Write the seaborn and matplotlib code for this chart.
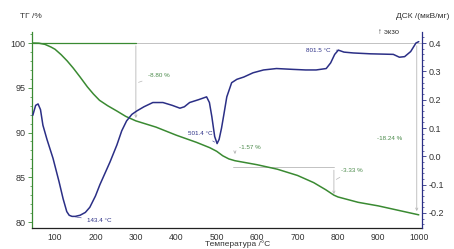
import numpy as np
import pandas as pd
import matplotlib
matplotlib.use("Agg")
import matplotlib.pyplot as plt
import seaborn as sns
from matplotlib.ticker import MultipleLocator, FormatStrFormatter

# ---- data ----
tg_temp = [45, 60, 75, 90, 100, 115, 130, 145, 162, 180, 195, 210, 230, 253, 275, 300,
           350, 400, 450, 483, 500, 515, 530, 545, 600, 650, 700, 740, 770, 790, 800,
           850, 900, 950, 1000]
tg_val = [100.0, 99.98, 99.85, 99.55, 99.3, 98.7, 98.0, 97.2, 96.2, 95.1, 94.3, 93.6,
          93.0, 92.4, 91.8, 91.3, 90.6, 89.7, 88.9, 88.3, 87.9, 87.4, 87.05, 86.85, 86.4,
          85.9, 85.2, 84.4, 83.6, 83.0, 82.8, 82.2, 81.8, 81.3, 80.8]

dsc_temp = [45, 52, 58, 64, 70, 80, 95, 110, 120, 129, 135, 142, 150, 162, 175, 186, 200,
            211, 236, 253, 265, 277, 290, 302, 320, 342, 367, 390, 409, 420, 433, 455,
            475, 482, 488, 495, 501, 506, 512, 518, 525, 537, 550, 567, 590, 616, 648,
            689, 720, 746, 771, 782, 792, 801, 815, 838, 880, 937, 952, 965, 980, 993,
            1000]
dsc_val = [0.145, 0.18, 0.185, 0.165, 0.11, 0.06, -0.007, -0.09, -0.15, -0.195, -0.208,
           -0.212, -0.212, -0.208, -0.198, -0.18, -0.14, -0.10, -0.02, 0.04, 0.09, 0.125,
           0.148, 0.16, 0.175, 0.19, 0.19, 0.18, 0.17, 0.175, 0.19, 0.2, 0.21, 0.19, 0.14,
           0.07, 0.045, 0.06, 0.1, 0.15, 0.21, 0.26, 0.272, 0.28, 0.295, 0.305, 0.31,
           0.307, 0.305, 0.305, 0.31, 0.33, 0.36, 0.375, 0.368, 0.365, 0.362, 0.36, 0.35,
           0.352, 0.37, 0.40, 0.405]

x_ticks = [100, 200, 300, 400, 500, 600, 700, 800, 900, 1000]
tg_ticks = [80, 85, 90, 95, 100]
dsc_ticks = [-0.2, -0.1, 0.0, 0.1, 0.2, 0.3, 0.4]

tg_steps_label = ["-8.80 %", "-1.57 %", "-3.33 %", "-18.24 %"]
peak_labels = ["143.4 °C", "501.4 °C", "801.5 °C"]

GREEN = "#3a8a32"
BLUE = "#2b2f86"
GRAY = "#b8b8b8"
TXT = "#333333"

sns.set_style("white")
plt.rcParams["font.family"] = ["Liberation Sans", "DejaVu Sans"]

fig = plt.figure(figsize=(4.54, 2.49), dpi=100)
ax = fig.add_axes([32 / 454, 1 - 228 / 249, 390 / 454, 196 / 249])
ax2 = ax.twinx()

tg_df = pd.DataFrame({"T": tg_temp, "TG": tg_val})
dsc_df = pd.DataFrame({"T": dsc_temp, "DSC": dsc_val})

ax.set_xlim(43, 1008)
ax.set_ylim(79.33, 101.23)
ax2.set_ylim(-0.253, 0.439)

# reference lines (behind)
ax.plot([300, 1008], [100, 100], color=GRAY, lw=0.6, zorder=1)
ax.plot([45, 300], [100, 100], color=GREEN, lw=0.9, zorder=2)
ax.plot([540, 790], [86.1, 86.1], color=GRAY, lw=0.6, zorder=1)

sns.lineplot(data=tg_df, x="T", y="TG", ax=ax, color=GREEN, lw=1.1, zorder=3)
sns.lineplot(data=dsc_df, x="T", y="DSC", ax=ax2, color=BLUE, lw=1.1, zorder=3)

# step arrows
arr = dict(arrowstyle="->", color=GRAY, lw=0.6, mutation_scale=4)
ax.annotate("", xy=(300, 91.3), xytext=(300, 100), arrowprops=arr)
ax.annotate("", xy=(545, 87.3), xytext=(545, 88.1), arrowprops=arr)
ax.annotate("", xy=(790, 82.8), xytext=(790, 86.1), arrowprops=arr)
ax.annotate("", xy=(995, 80.9), xytext=(995, 100), arrowprops=arr)

fs_small = 4.5
ax.annotate(tg_steps_label[0], xy=(300, 95.5), xytext=(330, 96.4), fontsize=fs_small,
            color="#4a8a4a", va="center",
            arrowprops=dict(arrowstyle="-", color=GRAY, lw=0.5))
ax.annotate(tg_steps_label[1], xy=(545, 87.7), xytext=(555, 88.3), fontsize=fs_small,
            color="#4a8a4a", va="center",
            arrowprops=dict(arrowstyle="-", color=GRAY, lw=0.5))
ax.annotate(tg_steps_label[2], xy=(790, 84.6), xytext=(808, 85.8), fontsize=fs_small,
            color="#4a8a4a", va="center",
            arrowprops=dict(arrowstyle="-", color=GRAY, lw=0.5))
ax.text(960, 89.3, tg_steps_label[3], fontsize=fs_small, color="#4a8a4a", va="center",
        ha="right")

ax2.annotate(peak_labels[0], xy=(143, -0.212), xytext=(180, -0.228), fontsize=fs_small,
             color=BLUE, va="center",
             arrowprops=dict(arrowstyle="-", color=BLUE, lw=0.4))
ax2.annotate(peak_labels[1], xy=(501, 0.045), xytext=(430, 0.08), fontsize=fs_small,
             color=BLUE, va="center",
             arrowprops=dict(arrowstyle="-", color=BLUE, lw=0.4))
ax2.annotate(peak_labels[2], xy=(801, 0.375), xytext=(720, 0.375), fontsize=fs_small,
             color=BLUE, va="center",
             arrowprops=dict(arrowstyle="-", color=BLUE, lw=0.4, ls="--"))

# axes styling
for a in (ax, ax2):
    a.set_xlabel("")
    a.set_ylabel("")
ax.spines["top"].set_visible(False)
ax2.spines["top"].set_visible(False)
ax.spines["right"].set_visible(False)
ax2.spines["left"].set_visible(False)
ax.spines["left"].set_color(GREEN)
ax2.spines["right"].set_color(BLUE)
ax2.spines["bottom"].set_visible(False)
ax.spines["bottom"].set_color("#222222")
for s in ("left", "bottom"):
    ax.spines[s].set_linewidth(0.9)
ax2.spines["right"].set_linewidth(0.9)

ax.set_xticks(x_ticks)
ax.set_yticks(tg_ticks)
ax2.set_yticks(dsc_ticks)
ax2.yaxis.set_major_formatter(FormatStrFormatter("%.1f"))
ax.xaxis.set_minor_locator(MultipleLocator(20))
ax.yaxis.set_minor_locator(MultipleLocator(1))
ax2.yaxis.set_minor_locator(MultipleLocator(0.02))

ax.tick_params(axis="x", which="major", length=2.5, width=0.6, color="#222222",
               labelsize=6.2, labelcolor=TXT, pad=0.8, direction="out")
ax.tick_params(axis="x", which="minor", length=1.3, width=0.5, color="#222222")
ax.tick_params(axis="y", which="major", length=3, width=0.6, color=GREEN,
               labelsize=6.5, labelcolor=TXT, pad=1.5, left=True)
ax.tick_params(axis="y", which="minor", length=1.5, width=0.5, color=GREEN, left=True)
ax2.tick_params(axis="y", which="major", length=3, width=0.6, color=BLUE,
                labelsize=6.5, labelcolor=TXT, pad=1.5, right=True)
ax2.tick_params(axis="y", which="minor", length=1.5, width=0.5, color=BLUE, right=True)
ax.grid(False)
ax2.grid(False)

fig.text(31 / 454, 1 - 17 / 249, "ТГ /%", fontsize=6, color=TXT, ha="center", va="center")
fig.text(449 / 454, 1 - 17 / 249, "ДСК /(мкВ/мг)", fontsize=6, color=TXT, ha="right",
         va="center")
fig.text(388 / 454, 1 - 32 / 249, "↑ экзо", fontsize=5.5, color=TXT, ha="center",
         va="center")
fig.text(238 / 454, 1 - 244.5 / 249, "Температура /°C", fontsize=6, color=TXT,
         ha="center", va="center")

fig.savefig("out.png", dpi=100)
